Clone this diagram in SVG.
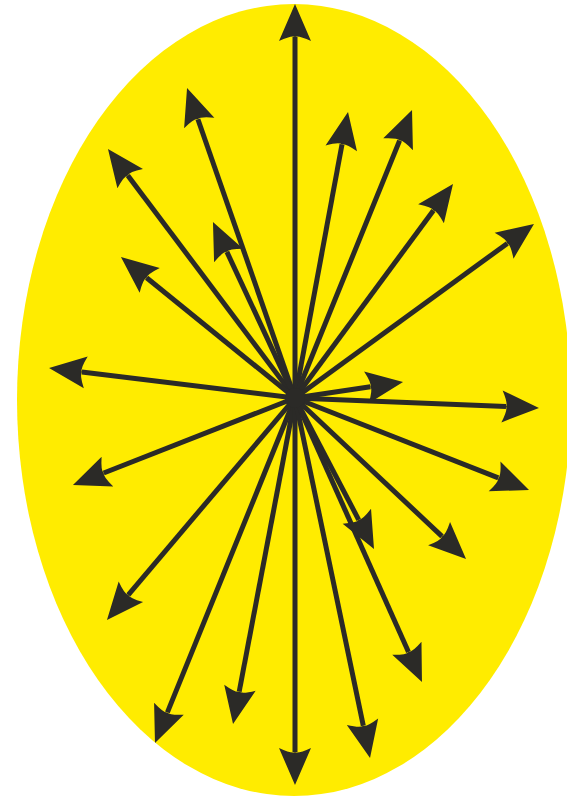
<svg xmlns="http://www.w3.org/2000/svg" width="567" height="798" viewBox="0 0 567 798">
<style>
.bg{fill:#FFEC00}
.ray{stroke:#2B2A27;stroke-width:5;fill:none;marker-end:url(#head)}
</style>
<defs>
<marker id="head" markerUnits="userSpaceOnUse" viewBox="-2 -20 44 40" markerWidth="44" markerHeight="40" refX="4" refY="0" orient="auto" overflow="visible">
<path d="M37,0 L0,-16 Q6,-3 4,0 Q6,3 0,16 Z" fill="#2B2A27"/>
</marker>
</defs>
<ellipse id="field" class="bg" cx="294" cy="400" rx="277" ry="396"/>
<g id="connectors">
<line class="ray" x1="295" y1="398" x2="295" y2="37"/>
<line class="ray" x1="295" y1="398" x2="197.9" y2="119.2"/>
<line class="ray" x1="295" y1="398" x2="127.8" y2="175.4"/>
<line class="ray" x1="295" y1="398" x2="226.9" y2="251.9"/>
<line class="ray" x1="295" y1="398" x2="146.6" y2="277.8"/>
<line class="ray" x1="295" y1="398" x2="342" y2="144.4"/>
<line class="ray" x1="295" y1="398" x2="399.6" y2="140.6"/>
<line class="ray" x1="295" y1="398" x2="433.4" y2="210.5"/>
<line class="ray" x1="295" y1="398" x2="507.3" y2="243.4"/>
<line class="ray" x1="295" y1="398" x2="81.8" y2="372"/>
<line class="ray" x1="295" y1="398" x2="370.4" y2="386.8"/>
<line class="ray" x1="295" y1="398" x2="506" y2="406.6"/>
<line class="ray" x1="295" y1="398" x2="103.7" y2="473"/>
<line class="ray" x1="295" y1="398" x2="498.3" y2="477.9"/>
<line class="ray" x1="295" y1="398" x2="128.3" y2="594.8"/>
<line class="ray" x1="295" y1="398" x2="167.4" y2="712.4"/>
<line class="ray" x1="295" y1="398" x2="239.2" y2="691.6"/>
<line class="ray" x1="295" y1="398" x2="295" y2="752"/>
<line class="ray" x1="295" y1="398" x2="363.3" y2="725.7"/>
<line class="ray" x1="295" y1="398" x2="408.5" y2="651.9"/>
<line class="ray" x1="295" y1="398" x2="358.7" y2="519.8"/>
<line class="ray" x1="295" y1="398" x2="442" y2="536.4"/>
</g>
<circle id="hub" cx="295" cy="398" r="10" fill="#2B2A27"/>
</svg>
